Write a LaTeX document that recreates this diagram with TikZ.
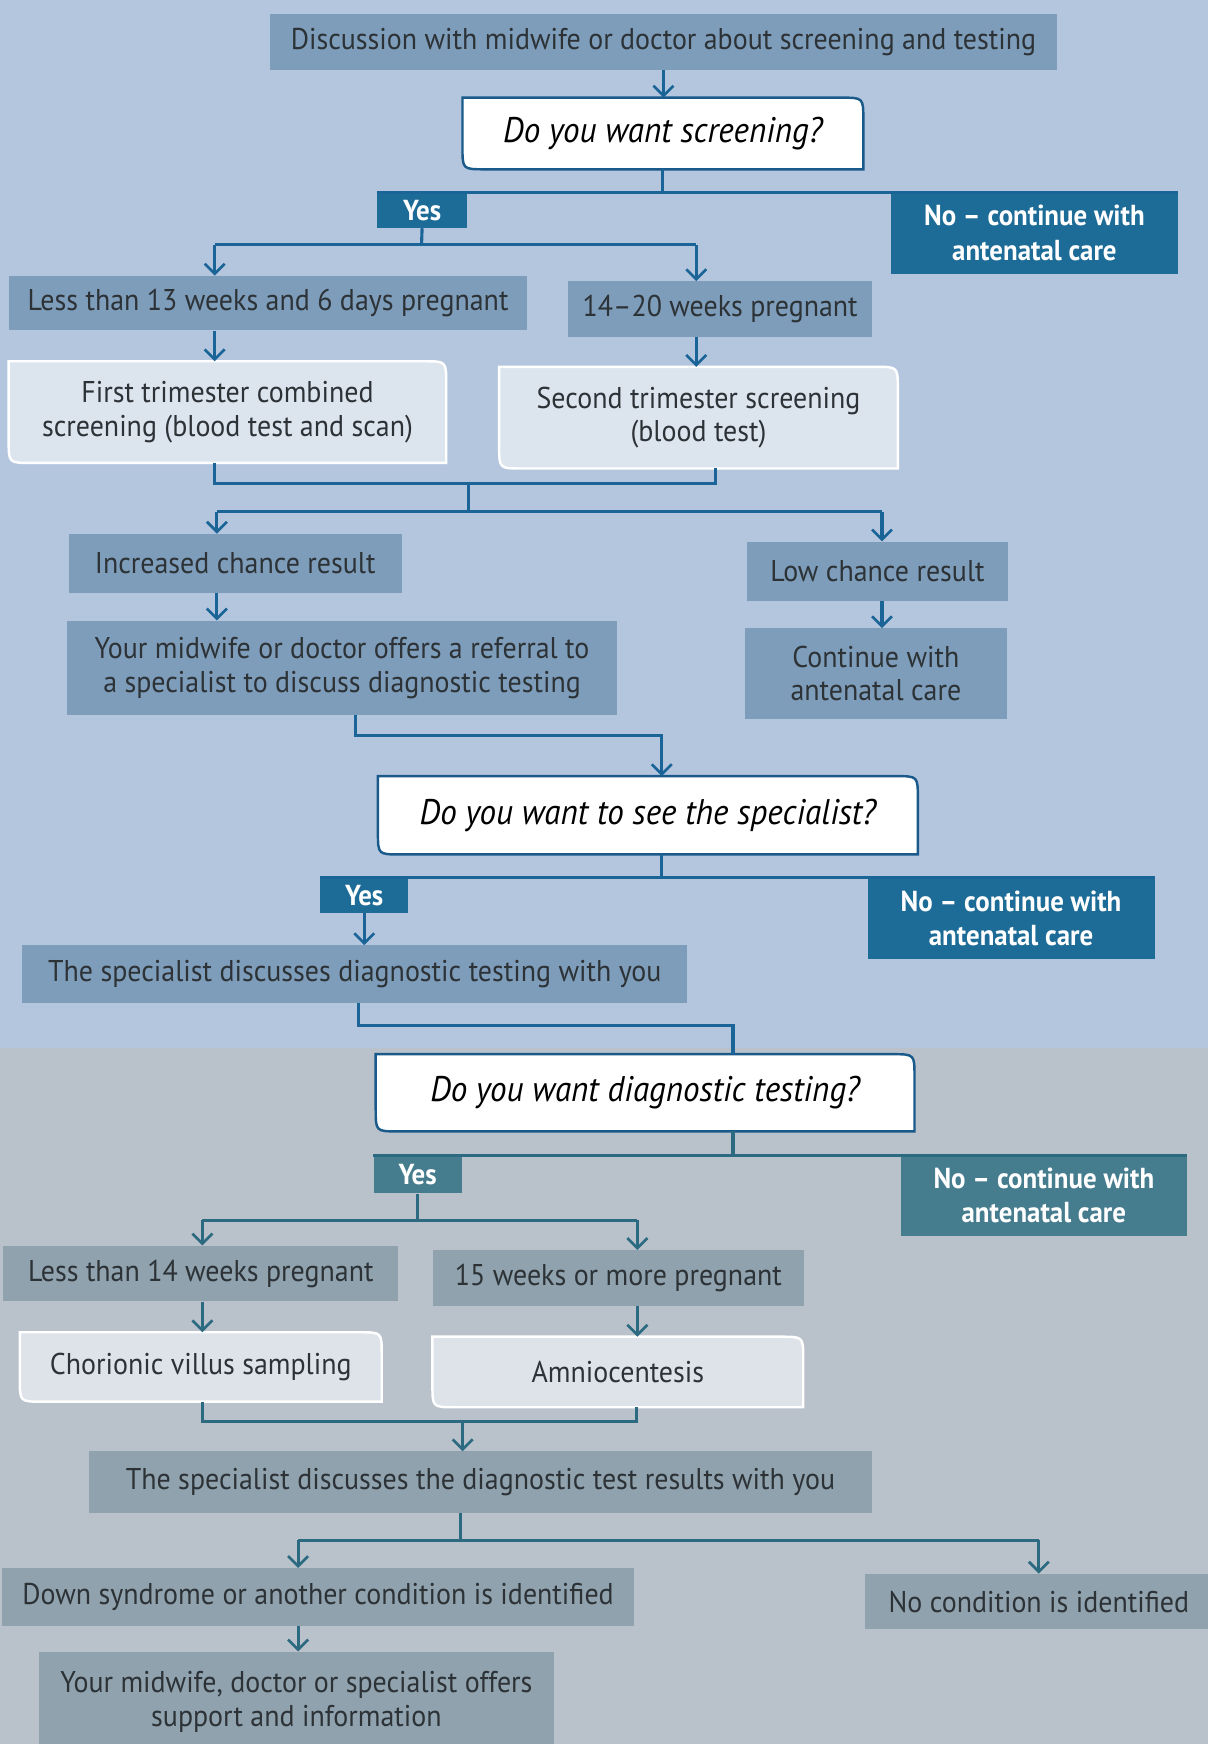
\documentclass[tikz,border=0pt]{standalone}
\usepackage{fontspec}
\setmainfont[FakeStretch=0.93]{PT Sans}
\usetikzlibrary{arrows.meta,calc}
\definecolor{bgtop}{HTML}{B4C6DE}
\definecolor{bgbot}{HTML}{B9C1CA}
\definecolor{midtop}{HTML}{7E9DBA}
\definecolor{midbot}{HTML}{8FA2AE}
\definecolor{darktop}{HTML}{1D6C97}
\definecolor{darkbot}{HTML}{467D8E}
\definecolor{lighttop}{HTML}{DCE4EE}
\definecolor{lightbot}{HTML}{DDE3E9}
\definecolor{lntop}{HTML}{1B6497}
\definecolor{lnbot}{HTML}{2B6A80}
\definecolor{txt}{HTML}{2C3236}
\definecolor{decedge}{HTML}{1A5A8A}
\newcommand\mybox[7]{%
  \pgfmathsetmacro\bxcx{(#3+#5)/2}\pgfmathsetmacro\bxcy{(#4+#6)/2}%
  \pgfmathsetmacro\bxw{#5-#3}\pgfmathsetmacro\bxh{#6-#4}%
  \node[#2, minimum width=\bxw pt, minimum height=\bxh pt] (#1) at (\bxcx,\bxcy) {#7};}
\newcommand\roundshape[3]{% node, fill, draw
  \draw[fill=#2, draw=#3, line width=2.2pt]
    (#1.north west) -- ([xshift=-20pt]#1.north east) .. controls (#1.north east) .. ([yshift=-20pt]#1.north east)
    -- (#1.south east) -- ([xshift=20pt]#1.south west) .. controls (#1.south west) .. ([yshift=20pt]#1.south west) -- cycle;}
\begin{document}
\begin{tikzpicture}[x=1pt,y=-1pt,
  base/.style={inner sep=0pt, align=center, font=\fontsize{27}{30}\selectfont},
  mid/.style={base, fill=midtop, text=txt},
  midb/.style={base, fill=midbot, text=txt},
  dark/.style={base, fill=darktop, text=white, font=\fontsize{26}{31}\selectfont\bfseries},
  darkb/.style={base, fill=darkbot, text=white, font=\fontsize{26}{31}\selectfont\bfseries},
  dec/.style={base, text=black, font=\fontsize{32}{36}\selectfont\itshape},
  light/.style={base, text=txt},
  ln/.style={draw=lntop, line width=2.8pt},
  lnb/.style={draw=lnbot, line width=2.8pt},
  arr/.style={ln, -{Straight Barb[length=9pt,width=18pt,line width=2.4pt]}},
  arrb/.style={lnb, -{Straight Barb[length=9pt,width=18pt,line width=2.4pt]}}]
\useasboundingbox (0,0) rectangle (1086,1568);
\clip (0,0) rectangle (1086,1568);
\fill[bgtop] (0,0) rectangle (1086,942);
\fill[bgbot] (0,942) rectangle (1086,1568);

% ---------- nodes ----------
\mybox{top}{mid}{243}{13}{950}{63}{Discussion with midwife or doctor about screening and testing}
\mybox{d1}{dec}{416}{88}{776}{152}{}
\roundshape{d1}{white}{decedge}
\node[dec] at (d1) {Do you want screening?};
\mybox{y1}{dark}{339}{173}{420}{205}{Yes}
\mybox{n1}{dark}{801}{173}{1059}{246}{No – continue with\\antenatal care}
\mybox{a1}{mid}{8}{248}{474}{297}{Less than 13 weeks and 6 days pregnant}
\mybox{b1}{mid}{511}{253}{784}{303}{14–20 weeks pregnant}
\mybox{a2}{light}{8}{325}{401}{416}{}
\roundshape{a2}{lighttop}{white}
\node[light] at (a2) {First trimester combined\\screening (blood test and scan)};
\mybox{b2}{light}{449}{330}{807}{421}{}
\roundshape{b2}{lighttop}{white}
\node[light] at (b2) {Second trimester screening\\(blood test)};
\mybox{c1}{mid}{62}{480}{361}{533}{Increased chance result}
\mybox{c2}{mid}{672}{487}{906}{540}{Low chance result}
\mybox{e1}{mid}{60}{558}{555}{643}{Your midwife or doctor offers a referral to\\a specialist to discuss diagnostic testing}
\mybox{e2}{mid}{670}{565}{905}{646}{Continue with\\antenatal care}
\mybox{d2}{dec}{340}{698}{825}{768}{}
\roundshape{d2}{white}{decedge}
\node[dec] at (d2) {Do you want to see the specialist?};
\mybox{y2}{dark}{288}{789}{367}{821}{Yes}
\mybox{n2}{dark}{780}{789}{1038}{862}{No – continue with\\antenatal care}
\mybox{f1}{mid}{20}{850}{618}{902}{The specialist discusses diagnostic testing with you}
\mybox{d3}{dec}{338}{948}{822}{1017}{}
\roundshape{d3}{white}{decedge}
\node[dec] at (d3) {Do you want diagnostic testing?};
\mybox{y3}{darkb}{336}{1039}{415}{1073}{Yes}
\mybox{n3}{darkb}{810}{1039}{1067}{1111}{No – continue with\\antenatal care}
\mybox{g1}{midb}{3}{1120}{358}{1170}{Less than 14 weeks pregnant}
\mybox{g2}{midb}{389}{1124}{723}{1174}{15 weeks or more pregnant}
\mybox{h1}{light}{18}{1198}{343}{1260}{}
\roundshape{h1}{lightbot}{white}
\node[light] at (h1) {Chorionic villus sampling};
\mybox{h2}{light}{389}{1202}{722}{1265}{}
\roundshape{h2}{lightbot}{white}
\node[light] at (h2) {Amniocentesis};
\mybox{k}{midb}{80}{1305}{784}{1360}{The specialist discusses the diagnostic test results with you}
\mybox{m1}{midb}{2}{1410}{570}{1462}{Down syndrome or another condition is identified}
\mybox{m2}{midb}{778}{1415}{1090}{1465}{No condition is identified}
\mybox{p}{midb}{35}{1485}{498}{1575}{Your midwife, doctor or specialist offers\\support and information}

% ---------- coordinates ----------
\coordinate (j1) at (379,220);
\coordinate (j1l) at (193,220);
\coordinate (j1r) at (626,220);
\coordinate (k1) at (193,435);
\coordinate (k2) at (643,435);
\coordinate (k3) at (421,435);
\coordinate (l0) at (421,460);
\coordinate (l1) at (195,460);
\coordinate (l2) at (793,460);
\coordinate (m0) at (320,661);
\coordinate (mm) at (595,661);
\coordinate (q0) at (322,922);
\coordinate (q1) at (659,922);
\coordinate (r0) at (375,1097);
\coordinate (rl) at (182,1097);
\coordinate (rr) at (573,1097);
\coordinate (s1) at (182,1278);
\coordinate (s2) at (572,1278);
\coordinate (s3) at (416,1278);
\coordinate (t0) at (414,1385);
\coordinate (tl) at (268,1385);
\coordinate (tr) at (934,1385);

% ---------- connectors ----------
\draw[arr] (top.south) -- (top.south |- d1.north);
\draw[ln] (d1.south) -- (d1.south |- y1.north);
\draw[ln] (y1.north west) -- (n1.north east);
\draw[ln] (y1.south) -- (j1);
\draw[ln] (j1l) -- (j1r);
\draw[arr] (j1l) -- (j1l |- a1.north);
\draw[arr] (j1r) -- (j1r |- b1.north);
\draw[arr] (a1.south -| j1l) -- (a2.north -| j1l);
\draw[arr] (b1.south -| j1r) -- (b2.north -| j1r);
\draw[ln] (a2.south -| k1) -- (k1) -- (k2) -- (b2.south -| k2);
\draw[ln] (k3) -- (l0);
\draw[ln] (l1) -- (l2);
\draw[arr] (l1) -- (l1 |- c1.north);
\draw[arr] (l2) -- (l2 |- c2.north);
\draw[arr] (c1.south -| l1) -- (e1.north -| l1);
\draw[arr] (c2.south -| l2) -- (e2.north -| l2);
\draw[arr] (e1.south -| m0) -- (m0) -- (mm) -- (mm |- d2.north);
\draw[ln] (d2.south -| mm) -- (mm |- y2.north);
\draw[ln] (y2.north west) -- (n2.north east);
\draw[arr] (y2.south) -- (y2.south |- f1.north);
\draw[ln] (f1.south -| q0) -- (q0) -- (q1) -- (q1 |- d3.north);
\draw[lnb] (d3.south -| q1) -- (q1 |- y3.north);
\draw[lnb] (y3.north west) -- (n3.north east);
\draw[lnb] (y3.south -| r0) -- (r0);
\draw[lnb] (rl) -- (rr);
\draw[arrb] (rl) -- (rl |- g1.north);
\draw[arrb] (rr) -- (rr |- g2.north);
\draw[arrb] (g1.south -| rl) -- (h1.north -| rl);
\draw[arrb] (g2.south -| rr) -- (h2.north -| rr);
\draw[lnb] (h1.south -| s1) -- (s1) -- (s2) -- (h2.south -| s2);
\draw[arrb] (s3) -- (s3 |- k.north);
\draw[lnb] (k.south -| t0) -- (t0);
\draw[lnb] (tl) -- (tr);
\draw[arrb] (tl) -- (tl |- m1.north);
\draw[arrb] (tr) -- (tr |- m2.north);
\draw[arrb] (m1.south -| tl) -- (p.north -| tl);
\end{tikzpicture}
\end{document}
